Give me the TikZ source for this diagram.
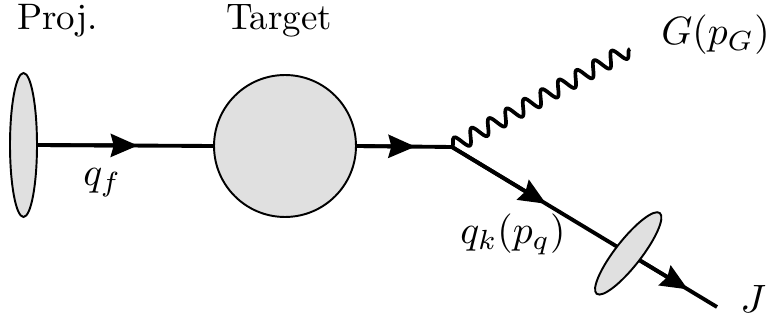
\documentclass[tikz,border=0pt]{standalone}
\usepackage{amsmath}
\usepackage{graphicx}
\usepackage{tikz}
\usetikzlibrary{arrows.meta, positioning, calc, shapes.geometric, decorations.pathmorphing}
\definecolor{blobcolor}{RGB}{224,224,224}
\newcommand{\biglbl}[1]{\scalebox{2.1}{#1}}
\newcommand{\bigmath}[1]{\scalebox{2.25}{$#1$}}

\begin{document}
\begin{tikzpicture}[x=0.02cm, y=-0.02cm,
    >={Stealth[length=0.54cm, width=0.46cm, inset=0.06cm]},
    blob/.style={
        draw=black, line width=1.1pt,
        fill=blobcolor, inner sep=0pt
    },
    quark/.style={
        line width=2.2pt
    },
    gluon/.style={
        line width=2.1pt, line join=round,
        decorate,
        decoration={snake, amplitude=0.15cm, segment length=0.4cm}
    },
    lbl/.style={
        anchor=base west,
        inner sep=0pt
    }
]
\useasboundingbox (0,0) rectangle (767,327);

% =========================
% PROJECTILE AND TARGET
% =========================
\node[blob, ellipse, minimum width=0.54cm, minimum height=2.88cm] (PROJ) at (23.5,145) {};
\node[blob, circle, minimum size=2.84cm] (TGT) at (285,146) {};

\node[lbl] (PROJlbl) at (17,30) {\biglbl{Proj.}};
\node[lbl] (TGTlbl) at (226,30) {\biglbl{Target}};

% =========================
% INCOMING QUARK
% =========================
\coordinate (V) at (452,147);

\draw[quark] (PROJ.east) -- (TGT.west);
\draw[quark, ->] (PROJ.east) -- ($(PROJ.east)!0.57!(TGT.west)$);
\draw[quark] (TGT.east) -- (V);
\draw[quark, ->] (TGT.east) -- ($(TGT.east)!0.615!(V)$);

\node[lbl] (QF) at (83,186) {\bigmath{q_f}};

% =========================
% GLUON AND JET
% =========================
\coordinate (GEND) at (630,49);
\coordinate (JEND) at (717,307);

\draw[gluon] (V) -- (GEND);

\draw[quark] (V) -- (JEND)
node[pos=0.665, blob, ellipse, rotate=-38,
    minimum width=0.52cm, minimum height=2.05cm] (JET) {};
\draw[quark, ->] (V) -- ($(V)!0.355!(JEND)$);
\draw[quark, ->] (JET) -- ($(V)!0.89!(JEND)$);

\node[lbl] (GLBL) at (661,45) {\bigmath{G(p_G)}};
\node[lbl] (QK) at (460,244) {\bigmath{q_k(p_q)}};
\node[lbl] (JLBL) at (740,313) {\bigmath{J}};

\end{tikzpicture}
\end{document}
